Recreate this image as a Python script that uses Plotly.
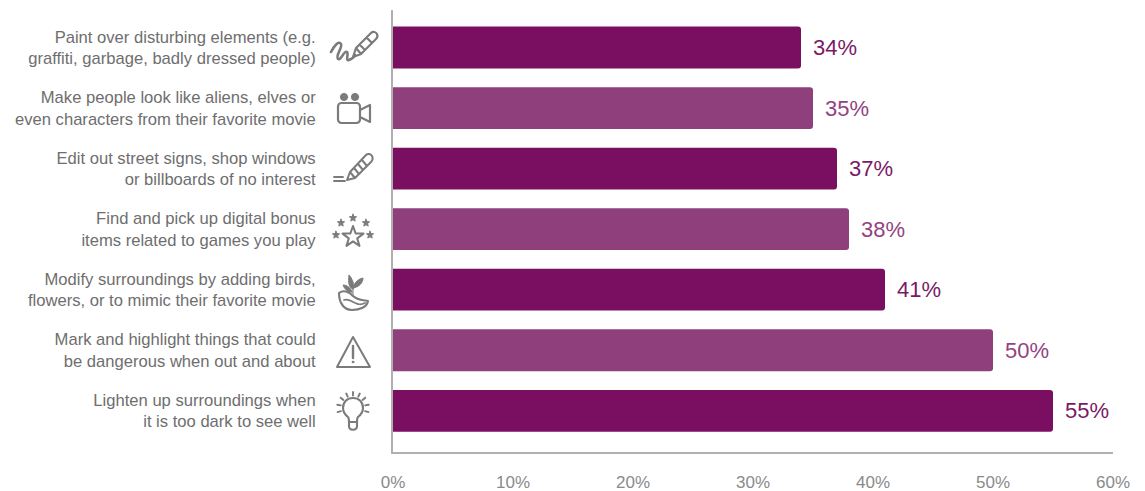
import base64
import math
import plotly.graph_objects as go

# Survey results: share of respondents per augmented-reality use, top to bottom
categories = [
    "Paint over disturbing elements (e.g.<br>graffiti, garbage, badly dressed people)",
    "Make people look like aliens, elves or<br>even characters from their favorite movie",
    "Edit out street signs, shop windows<br>or billboards of no interest",
    "Find and pick up digital bonus<br>items related to games you play",
    "Modify surroundings by adding birds,<br>flowers, or to mimic their favorite movie",
    "Mark and highlight things that could<br>be dangerous when out and about",
    "Lighten up surroundings when<br>it is too dark to see well",
]
values = [34, 35, 37, 38, 41, 50, 55]
x_ticks = [0, 10, 20, 30, 40, 50, 60]

DARK = "#7a0f62"
LIGHT = "#8f3f7c"
bar_colors = [DARK, LIGHT, DARK, LIGHT, DARK, LIGHT, DARK]
label_colors = ["#7a1a66", "#93437f", "#7a1a66", "#93437f", "#7a1a66", "#93437f", "#7a1a66"]

WIDTH, HEIGHT = 1145, 491
LEFT, RIGHT, TOP, BOTTOM = 393, 1113, 10, 452
ICON_GRAY = "#7b7b7b"
ICON_BOX = 60


def svg(body):
    doc = (
        f'<svg xmlns="http://www.w3.org/2000/svg" width="240" height="240" viewBox="0 0 {ICON_BOX} {ICON_BOX}">'
        f'<g fill="none" stroke="{ICON_GRAY}" stroke-width="1.9" stroke-linecap="round" stroke-linejoin="round">'
        f"{body}</g></svg>"
    )
    return "data:image/svg+xml;base64," + base64.b64encode(doc.encode()).decode()


def star(cx, cy, outer, inner, attrs=""):
    pts = []
    for i in range(10):
        r = outer if i % 2 == 0 else inner
        a = math.radians(-90 + 36 * i)
        pts.append(f"{cx + r * math.cos(a):.1f},{cy + r * math.sin(a):.1f}")
    return f'<polygon points="{" ".join(pts)}" {attrs}/>'


def rays(cx, cy, r0, r1, angles):
    segs = ""
    for deg in angles:
        a = math.radians(deg)
        segs += (
            f"M{cx + r0 * math.cos(a):.1f} {cy + r0 * math.sin(a):.1f}"
            f"L{cx + r1 * math.cos(a):.1f} {cy + r1 * math.sin(a):.1f}"
        )
    return f'<path d="{segs}"/>'


SOLID = f'fill="{ICON_GRAY}" stroke-width="1"'

# Line icons drawn in a 60-unit box, one per row, placed by their box centre
ICONS = [
    # squiggle and pencil
    ('<path stroke-width="2.6" d="M6 27C9 21 14 15 16 19C18 22 10 31 13 34C16 36 19 25 22 27C24 29 20 36 24 35C27 34 29 32 30 30"/>'
     '<path stroke-width="2.2" d="M28 32L31 23L46 8C48 6 51 7 52 9C53 11 53 12 51 14L36 29Z M31 23L36 29 M35 20L40 25 M42 13L47 18"/>',
     355, 55),
    # film camera
    (f'<circle cx="19" cy="12" r="3.6" {SOLID}/><circle cx="30" cy="12" r="3.6" {SOLID}/>'
     '<rect x="13" y="18" width="22" height="20" rx="3.5" stroke-width="2.2"/>'
     '<path stroke-width="2.2" d="M35 25L45 20V37L35 32"/>', 355, 115),
    # pencil with strokes
    ('<path stroke-width="2" d="M22 35L25 27L41 10C43 8 46 9 47 11C48 13 48 15 46 17L30 33Z M25 27L30 33 M29 23L34 29 M33 19L38 25 M37 15L42 21"/>'
     '<path stroke-width="1.8" d="M9 32H18 M9 36H20"/>', 355, 175),
    # ring of stars
    (star(28, 32, 11, 4.4, 'stroke-width="2"')
     + "".join(star(x, y, 3.8, 1.7, SOLID) for x, y in [(28, 13), (16, 18), (41, 18), (11, 30), (45, 30)]),
     355, 235),
    # seedling in a cupped hand
    ('<path stroke-width="2.1" d="M14 23C18 20 24 21 28 26C32 30 38 30 43 31C42 37 35 40 27 40C19 40 14 33 14 23Z"/>'
     '<path stroke-width="1.8" d="M19 30C24 28 28 33 33 34C36 35 38 34 40 33"/>'
     f'<path {SOLID} d="M28 25V12M28 19C24 18 23 13 24 5C27 8 29 13 28 19ZM28 18C29 13 33 9 38 8C38 13 34 17 28 18ZM27 22C23 22 20 20 18 15C22 15 26 18 27 22Z"/>',
     355, 300),
    # warning triangle
    ('<path d="M28 12L45 42H12Z" stroke-width="2"/><path d="M28 21V33" stroke-width="2.4"/>'
     f'<circle cx="28" cy="37" r="0.9" {SOLID}/>', 355, 355),
    # light bulb
    ('<path stroke-width="2.1" d="M23 32C19 29 18 26 18 23C18 17 22 13 28 13C34 13 38 17 38 23C38 26 37 29 33 32C32 33 32 35 32 37H24C24 35 24 33 23 32Z"/>'
     '<path stroke-width="2.1" d="M24 37V41C24 46 32 46 32 41V37"/>'
     + rays(28, 23, 12.5, 16, [-90, -65, -115, -40, -140, -12, -168, 15, 165]),
     355, 415),
]

fig = go.Figure(
    go.Bar(
        x=values,
        y=categories,
        orientation="h",
        width=0.69,
        marker=dict(color=bar_colors, line=dict(width=0)),
        hoverinfo="skip",
    )
)

# Percentage labels just past the end of each bar
for cat, val, col in zip(categories, values, label_colors):
    fig.add_annotation(
        x=val, y=cat, xref="x", yref="y", text=f"{val}%", showarrow=False,
        xanchor="left", yanchor="middle", xshift=10,
        font=dict(family="Liberation Sans", size=22, color=col),
    )

plot_w = RIGHT - LEFT
plot_h = BOTTOM - TOP
images = []
for src_body, cx, cy in ICONS:
    images.append(dict(
        source=svg(src_body),
        xref="paper", yref="paper",
        x=(cx - LEFT) / plot_w,
        y=(BOTTOM - cy) / plot_h,
        sizex=ICON_BOX / plot_w,
        sizey=ICON_BOX / plot_h,
        xanchor="center", yanchor="middle",
        sizing="contain", layer="above",
    ))

band = 60.55
fig.update_layout(
    width=WIDTH,
    height=HEIGHT,
    margin=dict(l=LEFT, r=WIDTH - RIGHT, t=TOP, b=HEIGHT - BOTTOM, pad=0),
    paper_bgcolor="white",
    plot_bgcolor="white",
    showlegend=False,
    barcornerradius=3,
    images=images,
    xaxis=dict(
        range=[0, 60],
        tickvals=x_ticks,
        ticktext=[f"{t}%" for t in x_ticks],
        showgrid=False,
        zeroline=False,
        showline=True,
        linecolor="#b0b0b0",
        linewidth=2,
        ticks="",
        ticklabelstandoff=14,
        automargin=False,
        tickfont=dict(family="Liberation Sans", size=17, color="#8a8a8a"),
    ),
    yaxis=dict(
        categoryorder="array",
        categoryarray=categories,
        range=[(BOTTOM - 47.5) / band, (TOP - 47.5) / band],
        showgrid=False,
        zeroline=False,
        showline=True,
        linecolor="#b0b0b0",
        linewidth=2,
        ticks="",
        ticklabelstandoff=72,
        automargin=False,
        tickfont=dict(family="Liberation Sans", size=16.6, color="#6e6e6e"),
    ),
)

fig.write_html("out.html")
